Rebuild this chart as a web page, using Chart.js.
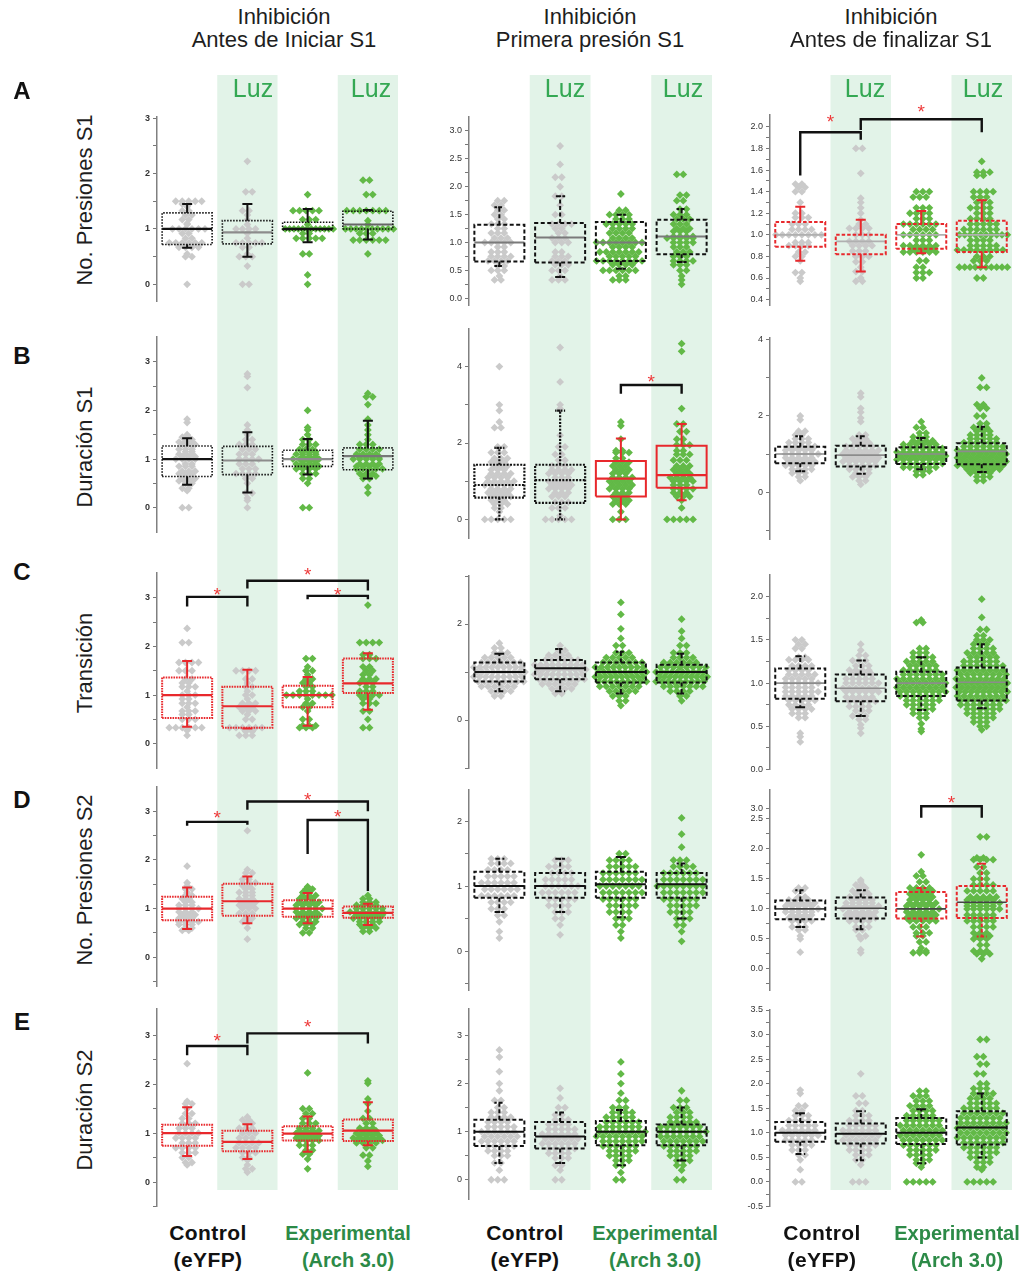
<!DOCTYPE html>
<html>
<head>
<meta charset="utf-8">
<script src="https://cdn.jsdelivr.net/npm/chart.js@4.4.1/dist/chart.umd.min.js"></script>
<style>
  body { margin: 0; background: #fff; width: 1031px; height: 1274px; position: relative; overflow: hidden;
         font-family: "Liberation Sans", Arial, sans-serif; }
  canvas { position: absolute; }
  .t { position: absolute; transform: translate(-50%, -50%); white-space: nowrap; color: #1e1e1e; z-index: 3; }
  .title { font-size: 22px; }
  .luz { font-size: 25px; color: #34a853; }
  .letter { font-size: 24px; font-weight: bold; color: #111; }
  .ytitle { font-size: 22px; transform: translate(-50%, -50%) rotate(-90deg); }
  .grp { font-size: 20px; font-weight: bold; color: #111; }
  .grp.ctl { font-size: 21px; letter-spacing: 0.4px; }
  .grp.exp { color: #2c8a47; }
</style>
</head>
<body>
<script>
// groups in every panel
const groups = ['Control', 'Control + Luz', 'Arch 3.0', 'Arch 3.0 + Luz'];

// box stats per group: [whisker low, Q1, median, Q3, whisker high]
// dots per group: [value, how many animals at that value]
const boxA1 = [[0.66,0.72,1.0,1.29,1.45],[0.5,0.73,0.94,1.15,1.45],[0.76,0.98,1.0,1.12,1.36],[0.81,1.0,1.08,1.32,1.34]];
const dotsA1 = [
  [[0,1],[0.5,2],[0.55,1],[0.67,4],[0.75,6],[0.83,2],[0.92,2],[1,6],[1.08,1],[1.1,1],[1.17,2],[1.25,2],[1.33,2],[1.4,1],[1.45,2],[1.5,5]],
  [[0,2],[0.33,1],[0.5,3],[0.55,1],[0.67,2],[0.75,5],[0.83,1],[0.92,1],[1,4],[1.08,1],[1.17,1],[1.25,1],[1.33,2],[1.67,2],[2.22,1]],
  [[0,1],[0.17,1],[0.55,2],[0.83,5],[0.92,2],[1,12],[1.08,1],[1.17,3],[1.33,5],[1.62,1]],
  [[0.55,1],[0.8,6],[0.92,3],[1,10],[1.08,1],[1.15,1],[1.33,7],[1.62,2],[1.88,2]]
];

const boxA2 = [[0.58,0.66,1.0,1.32,1.63],[0.38,0.64,1.09,1.35,1.83],[0.53,0.67,1.0,1.37,1.5],[0.65,0.79,1.11,1.41,1.6]];
const dotsA2 = [
  [[0.33,2],[0.4,1],[0.5,3],[0.58,2],[0.67,4],[0.75,4],[0.83,3],[0.92,2],[1,5],[1.08,3],[1.17,3],[1.25,2],[1.33,3],[1.42,2],[1.5,2],[1.58,2],[1.67,2],[1.75,2]],
  [[0.33,3],[0.4,1],[0.5,3],[0.6,3],[0.67,3],[0.75,3],[0.83,2],[1,3],[1.08,3],[1.17,2],[1.25,2],[1.33,4],[1.5,2],[1.67,1],[1.83,2],[2,1],[2.17,2],[2.4,1],[2.73,1]],
  [[0.33,3],[0.4,2],[0.5,6],[0.6,4],[0.67,8],[0.75,5],[0.83,7],[0.92,4],[1,8],[1.08,4],[1.17,4],[1.25,4],[1.33,5],[1.42,3],[1.5,4],[1.58,2],[1.87,1]],
  [[0.25,1],[0.33,1],[0.4,1],[0.5,2],[0.6,3],[0.67,4],[0.75,3],[0.83,3],[0.92,3],[1,4],[1.08,5],[1.11,4],[1.2,3],[1.25,3],[1.33,3],[1.42,3],[1.5,3],[1.6,2],[1.75,2],[1.85,2],[2.22,2]]
];

const boxA3 = [[0.76,0.89,1.0,1.12,1.26],[0.66,0.82,0.94,1.0,1.14],[0.83,0.87,1.0,1.1,1.22],[0.7,0.84,1.0,1.13,1.32]];
const dotsA3 = [
  [[0.57,1],[0.6,1],[0.65,2],[0.76,1],[0.8,2],[0.84,2],[0.9,4],[0.93,3],[1,8],[1.05,4],[1.1,3],[1.16,3],[1.2,2],[1.3,1],[1.4,2],[1.44,2],[1.47,2]],
  [[0.57,2],[0.6,1],[0.66,2],[0.7,1],[0.75,2],[0.8,3],[0.85,3],[0.9,4],[0.94,4],[1,3],[1.06,4],[1.1,2],[1.14,1],[1.2,1],[1.25,1],[1.3,1],[1.34,1],[1.57,1],[1.8,2]],
  [[0.6,2],[0.65,3],[0.7,2],[0.76,2],[0.84,6],[0.87,4],[0.9,6],[0.95,3],[1,6],[1.05,4],[1.1,6],[1.15,3],[1.2,4],[1.25,3],[1.35,3],[1.4,3]],
  [[0.6,2],[0.7,10],[0.76,3],[0.8,3],[0.86,8],[0.9,5],[0.95,4],[1,10],[1.05,6],[1.1,5],[1.15,4],[1.2,3],[1.25,4],[1.3,3],[1.35,3],[1.4,4],[1.55,2],[1.58,3],[1.68,1]]
];

const boxB1 = [[0.47,0.64,1.0,1.27,1.43],[0.31,0.68,0.97,1.26,1.55],[0.68,0.85,1.0,1.18,1.41],[0.6,0.78,1.06,1.23,1.79]];
const dotsB1 = [
  [[0,2],[0.35,1],[0.4,2],[0.5,2],[0.55,3],[0.6,3],[0.7,3],[0.75,3],[0.85,3],[0.9,2],[1,4],[1.05,3],[1.1,3],[1.15,2],[1.2,3],[1.3,3],[1.35,3],[1.4,2],[1.45,2],[1.5,1],[1.75,1],[1.82,1]],
  [[0,1],[0.15,1],[0.2,1],[0.3,2],[0.5,1],[0.6,2],[0.7,4],[0.8,3],[0.9,3],[1,4],[1.1,3],[1.2,3],[1.3,3],[1.4,2],[1.5,1],[1.6,1],[1.7,1],[2.47,1],[2.7,1],[2.75,1]],
  [[0,2],[0.5,1],[0.6,2],[0.7,3],[0.8,4],[0.85,4],[0.9,4],[0.95,3],[1,5],[1.05,3],[1.1,4],[1.15,3],[1.2,3],[1.3,3],[1.4,2],[1.5,1],[1.6,1],[1.65,1],[2,1]],
  [[0.3,1],[0.42,1],[0.6,2],[0.65,3],[0.7,3],[0.8,5],[0.85,4],[0.9,4],[1,5],[1.05,4],[1.1,4],[1.2,4],[1.3,3],[1.4,1],[1.5,1],[1.6,1],[1.7,1],[1.82,1],[2.12,1],[2.28,2],[2.35,1]]
];

const boxB2 = [[0,0.57,0.9,1.43,1.87],[0,0.43,1.03,1.43,2.85],[0,0.6,1.07,1.53,2.12],[0.5,0.83,1.16,1.93,2.5]];
const dotsB2 = [
  [[0,5],[0.2,1],[0.3,2],[0.4,3],[0.5,3],[0.6,4],[0.7,4],[0.8,4],[0.9,5],[1,5],[1.1,4],[1.2,4],[1.3,3],[1.4,3],[1.5,3],[1.6,3],[1.75,3],[1.9,2],[2.4,2],[2.55,1],[2.85,1],[3,1],[4,1]],
  [[0,5],[0.1,1],[0.3,3],[0.45,3],[0.6,3],[0.7,3],[0.8,4],[0.9,4],[1,4],[1.1,3],[1.2,4],[1.3,4],[1.4,3],[1.55,2],[1.7,2],[1.9,2],[2.2,1],[2.9,1],[3,1],[3.6,1],[4.5,1]],
  [[0,3],[0.2,1],[0.4,3],[0.5,3],[0.6,3],[0.7,3],[0.8,4],[0.9,4],[1,4],[1.1,4],[1.2,3],[1.3,3],[1.4,3],[1.5,3],[1.6,2],[1.75,3],[1.8,2],[2.1,1],[2.45,1],[2.55,1]],
  [[0,5],[0.3,1],[0.5,1],[0.6,3],[0.7,3],[0.8,4],[0.9,3],[1,4],[1.1,4],[1.2,3],[1.3,3],[1.4,3],[1.55,3],[1.7,3],[1.8,2],[1.95,3],[2.1,2],[2.3,2],[2.5,2],[2.9,1],[4.4,1],[4.6,1]]
];

const boxB3 = [[0.55,0.76,1.0,1.19,1.47],[0.48,0.67,0.97,1.22,1.47],[0.6,0.74,1.0,1.18,1.42],[0.53,0.73,1.07,1.28,1.72]];
const dotsB3 = [
  [[0.3,1],[0.4,2],[0.5,3],[0.6,4],[0.7,5],[0.8,5],[0.9,5],[1,6],[1.1,5],[1.2,5],[1.3,4],[1.4,3],[1.5,2],[1.6,2],[1.9,1],[2,1]],
  [[0.2,1],[0.3,2],[0.4,3],[0.5,3],[0.6,4],[0.7,5],[0.8,6],[0.9,6],[1,6],[1.1,6],[1.2,5],[1.3,3],[1.4,3],[1.5,2],[1.85,1],[1.95,1],[2.1,1],[2.2,1],[2.5,1],[2.6,1]],
  [[0.45,2],[0.55,3],[0.65,6],[0.75,7],[0.85,8],[0.95,8],[1.05,8],[1.15,7],[1.25,6],[1.35,4],[1.45,3],[1.55,2],[1.7,2],[1.85,1]],
  [[0.3,2],[0.4,3],[0.5,4],[0.6,6],[0.7,8],[0.8,8],[0.9,8],[1,8],[1.1,8],[1.2,7],[1.3,6],[1.4,5],[1.5,4],[1.6,3],[1.7,3],[1.8,2],[2,2],[2.2,2],[2.3,2],[2.75,2],[3,1]]
];

const boxC1 = [[0.35,0.53,1.0,1.36,1.7],[0.31,0.33,0.77,1.17,1.52],[0.37,0.75,1.0,1.19,1.37],[0.7,1.04,1.24,1.75,1.86]];
const dotsC1 = [
  [[0.17,1],[0.27,1],[0.33,6],[0.5,3],[0.6,2],[0.67,3],[0.75,1],[0.83,3],[0.92,2],[1,3],[1.08,1],[1.17,3],[1.25,2],[1.33,2],[1.5,3],[1.67,4],[2.08,2],[2.37,1]],
  [[0.17,3],[0.25,2],[0.33,6],[0.5,2],[0.6,1],[0.67,3],[0.75,3],[0.83,3],[0.92,1],[1,2],[1.08,1],[1.17,2],[1.25,1],[1.33,2],[1.5,4]],
  [[0.33,3],[0.37,3],[0.5,2],[0.67,1],[0.75,2],[0.83,2],[0.92,1],[1,8],[1.08,3],[1.17,2],[1.25,2],[1.33,2],[1.42,1],[1.5,2],[1.58,1],[1.75,2]],
  [[0.33,2],[0.5,1],[0.67,2],[0.83,3],[0.92,2],[1,4],[1.08,3],[1.17,2],[1.25,3],[1.33,3],[1.42,2],[1.5,2],[1.58,2],[1.75,3],[1.83,2],[2.08,4],[2.85,1]]
];

const boxC2 = [[0.6,0.8,1.0,1.2,1.38],[0.6,0.85,1.08,1.25,1.48],[0.55,0.78,1.0,1.2,1.42],[0.55,0.78,1.0,1.15,1.38]];
const dotsC2 = [
  [[0.5,2],[0.6,4],[0.7,6],[0.8,8],[0.9,9],[1,10],[1.1,9],[1.2,7],[1.3,5],[1.4,3],[1.5,2],[1.6,1]],
  [[0.55,2],[0.65,4],[0.75,6],[0.85,8],[0.95,9],[1.05,10],[1.15,9],[1.25,6],[1.35,4],[1.45,2],[1.55,1]],
  [[0.3,1],[0.4,2],[0.5,3],[0.6,5],[0.7,7],[0.8,9],[0.9,10],[1,10],[1.1,9],[1.2,7],[1.3,5],[1.4,3],[1.55,2],[1.7,1],[1.9,1],[2.2,1],[2.45,1]],
  [[0.4,1],[0.5,2],[0.6,4],[0.7,7],[0.8,9],[0.9,10],[1,10],[1.1,8],[1.2,6],[1.3,4],[1.4,3],[1.55,2],[1.7,1],[1.85,1],[2.1,1]]
];

const boxC3 = [[0.72,0.82,1.0,1.17,1.31],[0.62,0.79,0.94,1.1,1.26],[0.69,0.85,1.0,1.13,1.3],[0.71,0.8,1.01,1.18,1.45]];
const dotsC3 = [
  [[0.32,1],[0.38,1],[0.42,1],[0.6,2],[0.65,3],[0.7,4],[0.75,4],[0.8,5],[0.85,5],[0.9,6],[0.95,5],[1,6],[1.05,5],[1.1,5],[1.15,4],[1.2,4],[1.27,4],[1.3,2],[1.4,2],[1.45,2],[1.5,2]],
  [[0.42,1],[0.48,1],[0.52,1],[0.58,2],[0.62,3],[0.68,3],[0.73,4],[0.79,5],[0.84,5],[0.9,6],[0.94,6],[1,6],[1.05,5],[1.1,4],[1.15,4],[1.2,3],[1.26,3],[1.32,2],[1.38,1],[1.45,1]],
  [[0.44,1],[0.47,1],[0.53,1],[0.6,2],[0.65,3],[0.7,4],[0.75,5],[0.8,6],[0.85,7],[0.9,8],[0.95,8],[1,8],[1.05,8],[1.1,7],[1.15,6],[1.2,5],[1.25,5],[1.3,4],[1.35,3],[1.4,2],[1.7,2],[1.73,1]],
  [[0.46,1],[0.5,2],[0.55,3],[0.6,4],[0.65,5],[0.7,6],[0.75,7],[0.8,8],[0.85,8],[0.9,9],[0.95,9],[1,9],[1.05,9],[1.1,8],[1.15,8],[1.2,7],[1.25,6],[1.3,5],[1.35,5],[1.4,4],[1.45,3],[1.5,3],[1.55,2],[1.62,2],[1.76,1],[1.97,1]]
];

const boxD1 = [[0.58,0.76,1.0,1.24,1.43],[0.7,0.85,1.15,1.51,1.66],[0.7,0.83,1.0,1.17,1.32],[0.66,0.81,0.91,1.04,1.1]];
const dotsD1 = [
  [[0.55,2],[0.6,2],[0.67,3],[0.73,4],[0.8,3],[0.87,3],[0.93,3],[1,4],[1.07,3],[1.13,2],[1.2,2],[1.27,2],[1.33,1],[1.4,2],[1.47,1],[1.53,1],[1.87,1]],
  [[0.37,1],[0.6,1],[0.73,2],[0.8,2],[0.9,3],[1,3],[1.07,3],[1.13,3],[1.2,3],[1.27,2],[1.33,3],[1.4,2],[1.47,2],[1.53,3],[1.6,2],[1.73,2],[1.8,1],[2.6,1]],
  [[0.5,2],[0.6,2],[0.67,3],[0.73,3],[0.8,4],[0.87,4],[0.93,4],[1,5],[1.07,4],[1.13,4],[1.2,3],[1.27,3],[1.33,2],[1.4,2],[1.45,1]],
  [[0.53,2],[0.6,3],[0.67,3],[0.73,4],[0.8,5],[0.87,5],[0.93,6],[1,5],[1.07,4],[1.13,3],[1.2,2],[1.27,1]]
];

const boxD2 = [[0.6,0.82,1.0,1.22,1.42],[0.6,0.82,1.0,1.2,1.42],[0.52,0.82,1.03,1.22,1.45],[0.5,0.82,1.03,1.2,1.35]];
const dotsD2 = [
  [[0.2,1],[0.3,1],[0.45,1],[0.55,2],[0.65,3],[0.75,4],[0.85,6],[0.95,6],[1.05,6],[1.15,5],[1.25,4],[1.35,4],[1.42,3]],
  [[0.25,1],[0.4,1],[0.5,2],[0.6,3],[0.7,4],[0.8,5],[0.9,6],[1,6],[1.1,5],[1.2,4],[1.3,4],[1.4,3]],
  [[0.2,1],[0.3,1],[0.4,2],[0.5,3],[0.6,4],[0.7,5],[0.8,6],[0.9,7],[1,7],[1.1,7],[1.2,6],[1.3,5],[1.4,4],[1.5,2]],
  [[0.15,1],[0.3,1],[0.4,2],[0.5,3],[0.6,4],[0.7,5],[0.8,6],[0.9,7],[1,8],[1.1,7],[1.2,6],[1.3,4],[1.4,3],[1.6,1],[1.8,1],[2.05,1]]
];

// D3 axis is broken above 2.5: values are in axis units, "3.0" sits at 2.667
const boxD3 = [[0.7,0.83,1.0,1.14,1.31],[0.66,0.84,1.01,1.19,1.31],[0.54,0.84,1.0,1.28,1.35],[0.54,0.85,1.11,1.38,1.75]];
const dotsD3 = [
  [[0.28,1],[0.5,1],[0.55,1],[0.65,2],[0.7,3],[0.8,4],[0.85,4],[0.9,4],[0.95,5],[1,6],[1.05,5],[1.1,5],[1.15,4],[1.2,2],[1.3,2],[1.35,2]],
  [[0.27,1],[0.32,1],[0.5,1],[0.55,2],[0.65,2],[0.7,3],[0.8,4],[0.85,5],[0.9,5],[0.95,5],[1,6],[1.05,6],[1.1,5],[1.15,4],[1.2,4],[1.25,3],[1.3,3],[1.35,2],[1.4,2],[1.45,1],[1.48,1]],
  [[0.27,3],[0.3,2],[0.35,1],[0.45,2],[0.55,2],[0.6,3],[0.7,3],[0.8,5],[0.85,5],[0.9,5],[0.95,5],[1,6],[1.05,5],[1.1,5],[1.15,4],[1.2,4],[1.25,4],[1.3,4],[1.35,4],[1.45,2],[1.55,2],[1.62,1],[1.9,1]],
  [[0.17,1],[0.25,3],[0.3,3],[0.4,2],[0.5,3],[0.55,3],[0.6,3],[0.7,4],[0.8,5],[0.85,4],[0.9,5],[1,6],[1.05,5],[1.1,6],[1.15,5],[1.2,5],[1.3,5],[1.4,4],[1.5,3],[1.6,2],[1.7,2],[1.82,4],[1.85,2],[2.2,2]]
];

const boxE1 = [[0.53,0.74,1.0,1.17,1.53],[0.47,0.63,0.82,1.05,1.18],[0.62,0.85,0.99,1.14,1.34],[0.75,0.84,1.05,1.28,1.63]];
const dotsE1 = [
  [[0.35,1],[0.4,2],[0.5,2],[0.6,3],[0.7,4],[0.8,3],[0.9,4],[1,4],[1.1,3],[1.2,3],[1.3,2],[1.4,2],[1.5,1],[1.6,2],[1.65,1],[2.42,1]],
  [[0.2,1],[0.27,2],[0.35,1],[0.45,1],[0.5,2],[0.6,3],[0.7,4],[0.8,4],[0.9,3],[1,3],[1.1,3],[1.2,2],[1.27,2],[1.33,1]],
  [[0.27,1],[0.47,1],[0.57,2],[0.65,2],[0.75,3],[0.85,4],[0.9,4],[0.95,4],[1,4],[1.05,4],[1.1,3],[1.2,3],[1.3,2],[1.4,2],[1.5,2],[2.23,1]],
  [[0.32,1],[0.43,1],[0.55,2],[0.7,2],[0.8,4],[0.85,5],[0.9,5],[0.95,4],[1,4],[1.05,3],[1.1,3],[1.2,2],[1.3,2],[1.45,1],[1.6,1],[1.7,1],[2.02,1],[2.07,1]]
];

const boxE2 = [[0.35,0.7,1.0,1.25,1.6],[0.35,0.65,0.9,1.2,1.4],[0.3,0.72,1.0,1.22,1.45],[0.4,0.72,1.0,1.15,1.5]];
const dotsE2 = [
  [[0,3],[0.2,1],[0.35,2],[0.5,3],[0.6,4],[0.7,5],[0.8,6],[0.9,6],[1,6],[1.1,5],[1.2,4],[1.3,4],[1.4,3],[1.5,2],[1.65,2],[1.85,1],[2,1],[2.25,1],[2.55,1],[2.7,1]],
  [[0,2],[0.2,1],[0.3,2],[0.45,3],[0.55,4],[0.65,5],[0.75,6],[0.85,6],[0.95,6],[1.05,5],[1.15,4],[1.25,3],[1.35,2],[1.5,2],[1.7,1],[1.9,1]],
  [[0,2],[0.15,1],[0.3,2],[0.4,3],[0.5,4],[0.6,5],[0.7,6],[0.8,7],[0.9,8],[1,8],[1.1,7],[1.2,6],[1.3,5],[1.4,4],[1.5,3],[1.65,2],[1.8,1],[2,1],[2.2,1],[2.45,1]],
  [[0,2],[0.2,1],[0.3,2],[0.4,3],[0.5,4],[0.6,5],[0.7,6],[0.8,7],[0.9,7],[1,8],[1.1,7],[1.2,5],[1.3,4],[1.4,3],[1.5,3],[1.65,2],[1.85,1]]
];

const boxE3 = [[0.57,0.82,1.0,1.22,1.4],[0.44,0.78,0.98,1.19,1.44],[0.38,0.77,1.0,1.3,1.48],[0.5,0.76,1.11,1.44,1.8]];
const dotsE3 = [
  [[0,2],[0.25,1],[0.45,1],[0.55,2],[0.65,3],[0.75,4],[0.85,5],[0.95,6],[1.05,6],[1.15,5],[1.25,4],[1.35,3],[1.45,2],[1.55,2],[1.8,1],[1.87,1]],
  [[0,3],[0.35,1],[0.45,2],[0.55,3],[0.65,4],[0.75,5],[0.85,6],[0.95,6],[1.05,6],[1.15,5],[1.25,4],[1.35,3],[1.45,2],[1.6,2],[1.75,2],[2.2,1]],
  [[0,5],[0.3,1],[0.38,2],[0.45,3],[0.55,4],[0.65,5],[0.75,6],[0.85,7],[0.95,7],[1.05,7],[1.15,7],[1.25,6],[1.35,5],[1.45,4],[1.55,4],[1.65,3],[1.75,3],[1.85,2]],
  [[0,5],[0.25,1],[0.3,2],[0.4,3],[0.5,4],[0.6,5],[0.7,6],[0.8,7],[0.9,8],[1,8],[1.1,8],[1.2,8],[1.3,7],[1.4,7],[1.5,6],[1.6,5],[1.7,4],[1.8,4],[1.9,3],[2,2],[2.2,2],[2.4,2],[2.55,2],[2.9,2]]
];

// significance brackets: [from group, to group, top, drop left, drop right, star]
const brA3 = [[1,2,1.95,1.55,1.88,2.09],[2,4,2.07,1.97,1.95,2.18]];
const brB2 = [[3,4,3.52,3.29,3.29,3.72]];
const brC1 = [[1,2,3.02,2.82,2.82,3.17],[2,4,3.35,3.19,3.15,3.58],[3,4,3.04,2.97,2.97,3.17]];
const brD1 = [[1,2,2.78,2.7,2.72,2.96],[2,4,3.2,3.03,3.0,3.33],[3,4,2.82,2.12,1.36,2.98]];
const brD3 = [[3,4,2.71,2.52,2.52,2.84]];
const brE1 = [[1,2,2.78,2.59,2.59,2.98],[2,4,3.04,2.83,2.83,3.28]];

// y tick labels
const ticksInt3 = [0,1,2,3], minorInt3 = [-0.5,0.5,1.5,2.5];
const ticksA2 = [0,0.5,1,1.5,2,2.5,3], minorA2 = [0.25,0.75,1.25,1.75,2.25,2.75];
const ticksA3 = [0.4,0.6,0.8,1.0,1.2,1.4,1.6,1.8,2.0], minorA3 = [0.5,0.7,0.9,1.1,1.3,1.5,1.7,1.9];
const ticksB = [0,2,4], minorB = [-1,1,3];
const ticksC2 = [0,2], minorC2 = [-1,1,3];
const ticksC3 = [0,0.5,1,1.5,2], minorC3 = [0.25,0.75,1.25,1.75];
const ticksD2 = [0,1,2], minorD2 = [-0.5,0.5,1.5];
const ticksD3 = [0,0.5,1,1.5,2,2.5,2.667], labelsD3 = ['0.0','0.5','1.0','1.5','2.0','2.5','3.0'];
const minorD3 = [-0.25,0.25,0.75,1.25,1.75,2.25];
const ticksE3 = [-0.5,0,0.5,1,1.5,2,2.5,3,3.5], minorE3 = [-0.25,0.25,0.75,1.25,1.75,2.25,2.75,3.25];

const GRAY = '#cacaca', GREEN = '#62b947', BAND = '#e2f3e8';
const K = '#111111', R = '#e8282c';
const LINE = { solid: [[], 2], dot: [[1.5, 1.5], 1.6], dot2: [[2, 1.4], 2.2], rdot: [[1.6, 1], 2],
               dash: [[4, 2.5], 2], rdash: [[3.5, 2], 2] };

const AXIS_W = 47;
const COLS = [{ axis: 157, w: 241 }, { axis: 469, w: 243 }, { axis: 770, w: 242 }];
const ROWS = [{ top: 75, bot: 320 }, { top: 320, bot: 548 }, { top: 548, bot: 778 },
              { top: 778, bot: 1000 }, { top: 1000, bot: 1215 }];
const BAND_END = 1190;

const panels = [
  { row: 0, col: 0, min: -0.3, max: 3.02, top: 117, bot: 301, major: ticksInt3, minor: [0.5,1.5,2.5], dec: 0,
    box: boxA1, dots: dotsA1, sty: { bc: K, bd: 'dot', mc: [K, '#8c8c8c', K, '#666'], wc: K, wd: 'solid', mw: 2.2 } },
  { row: 0, col: 1, min: -0.12, max: 3.25, top: 117, bot: 305, major: ticksA2, minor: minorA2, dec: 1,
    box: boxA2, dots: dotsA2, sty: { bc: K, bd: 'dash', mc: '#7a7a7a', wc: K, wd: 'dash', mw: 2 } },
  { row: 0, col: 2, min: 0.35, max: 2.11, top: 115, bot: 305, major: ticksA3, minor: minorA3, dec: 1,
    box: boxA3, dots: dotsA3, br: brA3, sty: { bc: R, bd: 'rdash', mc: '#b0b0b0', wc: R, wd: 'solid', mw: 1.8 } },

  { row: 1, col: 0, min: -0.5, max: 3.51, top: 337, bot: 532, major: ticksInt3, minor: [0.5,1.5,2.5], dec: 0,
    box: boxB1, dots: dotsB1, sty: { bc: K, bd: 'dot', mc: [K, '#8c8c8c', '#8c8c8c', '#777'], wc: K, wd: 'solid', mw: 2.2 } },
  { row: 1, col: 1, min: -0.5, max: 5.0, top: 324, bot: 538.5, major: ticksB, minor: minorB, dec: 0,
    box: boxB2, dots: dotsB2, br: brB2,
    sty: { bc: [K, K, R, R], bd: ['dot2', 'dot2', 'solid', 'solid'], mc: [K, K, R, R], md: ['dot2', 'dot2', 'solid', 'solid'],
           wc: [K, K, R, R], wd: ['dot2', 'dot2', 'solid', 'solid'], mw: 2.2 } },
  { row: 1, col: 2, min: -1.25, max: 4.05, top: 338, bot: 545, major: ticksB, minor: minorB, dec: 0,
    box: boxB3, dots: dotsB3, sty: { bc: K, bd: 'dash', mc: '#8c8c8c', wc: K, wd: 'dash', mw: 1.6 } },

  { row: 2, col: 0, min: -0.5, max: 3.51, top: 573, bot: 768, major: ticksInt3, minor: [0.5,1.5,2.5], dec: 0,
    box: boxC1, dots: dotsC1, br: brC1, sty: { bc: R, bd: 'rdot', mc: R, wc: R, wd: 'solid', mw: 2.2 } },
  { row: 2, col: 1, min: -1.0, max: 3.0, top: 576, bot: 768, major: ticksC2, minor: minorC2, dec: 0,
    box: boxC2, dots: dotsC2, sty: { bc: K, bd: 'dash', mc: K, wc: K, wd: 'dash', mw: 2 } },
  { row: 2, col: 2, min: 0, max: 2.25, top: 575, bot: 771, major: ticksC3, minor: minorC3, dec: 1,
    box: boxC3, dots: dotsC3, sty: { bc: K, bd: 'dash', mc: '#8c8c8c', wc: K, wd: 'dash', mw: 1.6 } },

  { row: 3, col: 0, min: -0.6, max: 3.51, top: 785, bot: 986.4, major: ticksInt3, minor: minorInt3, dec: 0,
    box: boxD1, dots: dotsD1, br: brD1, sty: { bc: R, bd: 'rdot', mc: R, wc: R, wd: 'solid', mw: 2.2 } },
  { row: 3, col: 1, min: -0.6, max: 2.48, top: 790, bot: 990, major: ticksD2, minor: minorD2, dec: 0,
    box: boxD2, dots: dotsD2, sty: { bc: K, bd: 'dash', mc: K, wc: K, wd: 'dash', mw: 2 } },
  { row: 3, col: 2, min: -0.35, max: 2.98, top: 790, bot: 990, major: ticksD3, minor: minorD3, labels: labelsD3,
    box: boxD3, dots: dotsD3, br: brD3,
    sty: { bc: [K, K, R, R], bd: ['dash', 'dash', 'rdash', 'rdash'], mc: '#444', wc: [K, K, R, R],
           wd: ['dash', 'dash', 'rdash', 'rdash'], mw: 1.6 } },

  { row: 4, col: 0, min: -0.5, max: 3.55, top: 1008, bot: 1206.5, major: ticksInt3, minor: minorInt3, dec: 0,
    box: boxE1, dots: dotsE1, br: brE1, sty: { bc: R, bd: 'rdot', mc: R, wc: R, wd: 'solid', mw: 2.2 } },
  { row: 4, col: 1, min: -0.4, max: 3.55, top: 1009, bot: 1199, major: ticksInt3, minor: [0.5,1.5,2.5], dec: 0,
    box: boxE2, dots: dotsE2, sty: { bc: K, bd: 'dash', mc: K, wc: K, wd: 'dash', mw: 2 } },
  { row: 4, col: 2, min: -0.5, max: 3.5, top: 1010, bot: 1206.5, major: ticksE3, minor: minorE3, dec: 1,
    box: boxE3, dots: dotsE3, sty: { bc: K, bd: 'dash', mc: K, wc: K, wd: 'dash', mw: 2 } }
];

// lay the dots of one value out as a horizontal row, centred on the group;
// neighbouring rows are nudged left/right so they interleave
function spread(dots, ppx, g) {
  const out = [];
  dots.forEach(([v, n], r) => {
    const step = n > 1 ? Math.min(6.5, 48 / (n - 1)) : 0;
    const nudge = n > 1 ? (r % 2 ? 1.6 : -1.6) : 0;
    for (let j = 0; j < n; j++) {
      const px = (j - (n - 1) / 2) * step + nudge;
      out.push({ x: g + px / ppx, y: v });
    }
  });
  return out;
}

const bandPlugin = {
  id: 'bands',
  beforeDraw(chart, args, opts) {
    const { ctx, scales: { x } } = chart;
    ctx.save();
    ctx.fillStyle = BAND;
    [2, 4].forEach(g => {
      const a = x.getPixelForValue(g - 0.5), b = x.getPixelForValue(g + 0.5);
      ctx.fillRect(a, 0, b - a, opts.end);
    });
    ctx.restore();
  }
};

const starPlugin = {
  id: 'stars',
  afterDatasetsDraw(chart, args, opts) {
    const { ctx, scales: { x, y } } = chart;
    ctx.save();
    ctx.fillStyle = '#ee3a3a';
    ctx.font = '19px "Liberation Sans", Arial, sans-serif';
    ctx.textAlign = 'center';
    ctx.textBaseline = 'alphabetic';
    (opts.list || []).forEach(b => {
      ctx.fillText('*', x.getPixelForValue((b[0] + b[1]) / 2), y.getPixelForValue(b[5]) + 11);
    });
    ctx.restore();
  }
};

function makePanel(p) {
  const col = COLS[p.col], row = ROWS[p.row];
  const cv = document.createElement('canvas');
  const w = AXIS_W + col.w + 12, h = row.bot - row.top;
  cv.width = w;
  cv.height = h;
  cv.style.left = (col.axis - AXIS_W) + 'px';
  cv.style.top = row.top + 'px';
  document.body.appendChild(cv);

  const ppx = col.w / 4;
  const hw = 25 / ppx, cw = 5 / ppx;
  const s = p.sty;
  const pick = (v, i) => Array.isArray(v) ? v[i] : v;

  const lineDs = (pts, color, style, width) => ({
    data: pts, showLine: true, borderColor: color, borderDash: LINE[style][0],
    borderWidth: width || LINE[style][1], pointRadius: 0, tension: 0, clip: false, order: 0
  });

  const datasets = [];
  p.box.forEach(([lo, q1, med, q3, hi], i) => {
    const g = i + 1;
    const wc = pick(s.wc, i), wd = pick(s.wd, i);
    datasets.push(lineDs([{ x: g, y: q1 }, { x: g, y: lo }, { x: g - cw, y: lo }, { x: g + cw, y: lo }], wc, wd));
    datasets.push(lineDs([{ x: g, y: q3 }, { x: g, y: hi }, { x: g - cw, y: hi }, { x: g + cw, y: hi }], wc, wd));
    datasets.push(lineDs([{ x: g - hw, y: q1 }, { x: g + hw, y: q1 }, { x: g + hw, y: q3 },
                          { x: g - hw, y: q3 }, { x: g - hw, y: q1 }], pick(s.bc, i), pick(s.bd, i)));
    datasets.push(lineDs([{ x: g - hw, y: med }, { x: g + hw, y: med }], pick(s.mc, i), pick(s.md || 'solid', i), s.mw));
  });
  (p.br || []).forEach(([a, b, top, da, db]) => {
    datasets.push(lineDs([{ x: a, y: da }, { x: a, y: top }, { x: b, y: top }, { x: b, y: db }], K, 'solid', 2.4));
  });
  p.dots.forEach((d, i) => {
    const c = i < 2 ? GRAY : GREEN;
    datasets.push({
      label: groups[i], data: spread(d, ppx, i + 1), pointStyle: 'rectRot', pointRadius: 3.9,
      pointBackgroundColor: c, pointBorderColor: c, pointBorderWidth: 0, showLine: false, order: 2
    });
  });

  const allTicks = p.major.concat(p.minor).filter(v => v >= p.min && v <= p.max).sort((a, b) => a - b);

  new Chart(cv, {
    type: 'scatter',
    data: { datasets },
    options: {
      responsive: false,
      animation: false,
      events: [],
      layout: { padding: { top: p.top - row.top, bottom: row.bot - p.bot, left: 0, right: 12 } },
      plugins: {
        legend: { display: false },
        tooltip: { enabled: false },
        bands: { end: Math.min(h, BAND_END - row.top) },
        stars: { list: p.br || [] }
      },
      scales: {
        x: { type: 'linear', min: 0.5, max: 4.5, display: false },
        y: {
          type: 'linear', min: p.min, max: p.max,
          afterFit(sc) { sc.width = AXIS_W; },
          afterBuildTicks(sc) { sc.ticks = allTicks.map(v => ({ value: v })); },
          ticks: {
            autoSkip: false, padding: 3, color: '#333',
            font: { size: 9, family: '"Liberation Sans", Arial, sans-serif', weight: p.col === 0 ? 'bold' : 'normal' },
            callback(v) {
              const k = p.major.indexOf(v);
              if (k < 0) return '';
              return p.labels ? p.labels[k] : v.toFixed(p.dec);
            }
          },
          grid: { drawOnChartArea: false, drawTicks: true, tickLength: 4, color: '#777', lineWidth: 1 },
          border: { display: true, color: '#808080', width: 1.5 }
        }
      }
    },
    plugins: [bandPlugin, starPlugin]
  });
}

panels.forEach(makePanel);

// headings and labels
function text(cls, str, x, y) {
  const d = document.createElement('div');
  d.className = 't ' + cls;
  d.textContent = str;
  d.style.left = x + 'px';
  d.style.top = y + 'px';
  document.body.appendChild(d);
}
const colTitles = [['Inhibición', 'Antes de Iniciar S1', 284], ['Inhibición', 'Primera presión S1', 590],
                   ['Inhibición', 'Antes de finalizar S1', 891]];
colTitles.forEach(([a, b, x]) => { text('title', a, x, 17); text('title', b, x, 40); });

[[253, 371], [565, 683], [865, 983]].forEach(xs => xs.forEach(x => text('luz', 'Luz', x, 88)));

const rowLetters = ['A', 'B', 'C', 'D', 'E'], letterY = [91, 356, 572, 800, 1022];
rowLetters.forEach((l, i) => text('letter', l, 22, letterY[i]));

const yTitles = ['No. Presiones S1', 'Duración S1', 'Transición', 'No. Presiones S2', 'Duración S2'];
const yTitleY = [200, 447, 663, 880, 1110];
yTitles.forEach((t, i) => text('ytitle', t, 85, yTitleY[i]));

[[208, 348], [525, 655], [822, 957]].forEach(([c, e]) => {
  text('grp ctl', 'Control', c, 1233);
  text('grp ctl', '(eYFP)', c, 1260);
  text('grp exp', 'Experimental', e, 1233);
  text('grp exp', '(Arch 3.0)', e, 1260);
});
</script>
</body>
</html>
